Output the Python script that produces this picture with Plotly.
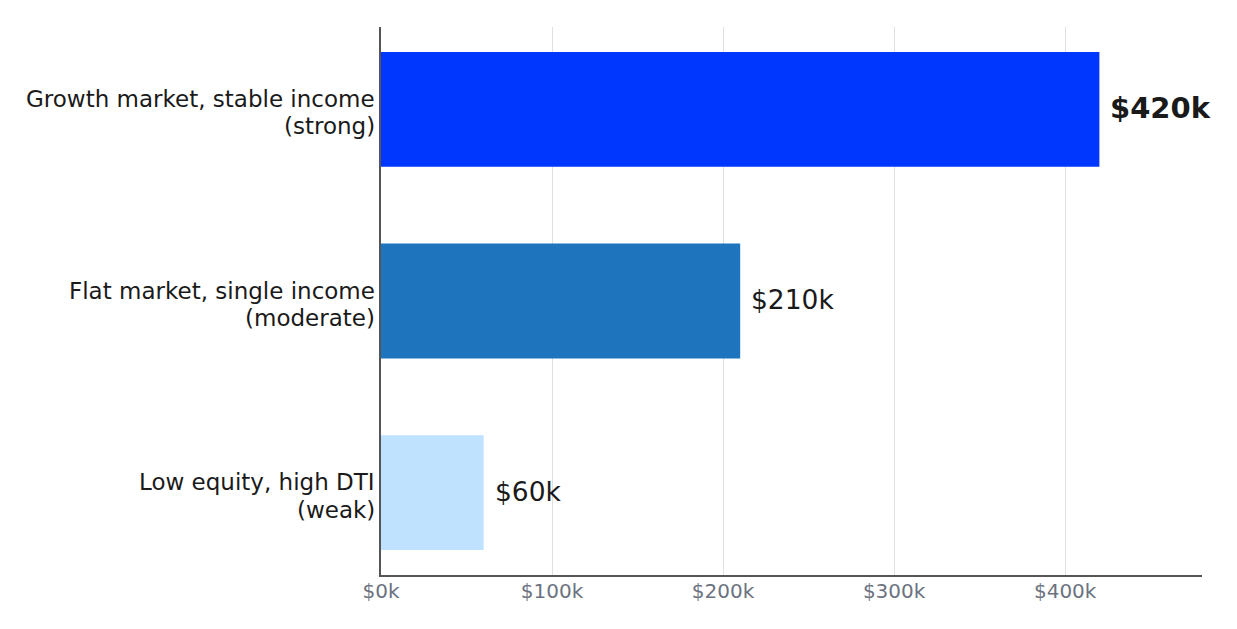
import plotly.graph_objects as go

categories = ["Growth market, stable income (strong)",
              "Flat market, single income (moderate)",
              "Low equity, high DTI (weak)"]
label_lines = [["Growth market, stable income", "(strong)"],
               ["Flat market, single income", "(moderate)"],
               ["Low equity, high DTI", "(weak)"]]
values = [420000, 210000, 60000]
labels = ["$420k", "$210k", "$60k"]
colors = ["#0037FF", "#1F75BD", "#BEE2FF"]
tick_vals = [0, 100000, 200000, 300000, 400000]
tick_text = ["$0k", "$100k", "$200k", "$300k", "$400k"]

fig = go.Figure(go.Bar(
    x=values, y=categories, orientation="h",
    marker=dict(color=colors, line=dict(width=0)),
    width=0.6, hoverinfo="skip",
))

for i, (v, c, lab) in enumerate(zip(values, categories, labels)):
    bold = i == 0
    fig.add_annotation(
        x=v, y=c, xref="x", yref="y",
        text=f"<b>{lab}</b>" if bold else lab,
        showarrow=False, xanchor="left", yanchor="middle", xshift=9, yshift=1.5,
        font=dict(family="DejaVu Sans", size=29 if bold else 26.5, color="#1a1a1a"),
    )

for c, lines in zip(categories, label_lines):
    for j, (line, dy) in enumerate(zip(lines, [10.5, -17])):
        fig.add_annotation(
            x=0, y=c, xref="paper", yref="y",
            text=line, showarrow=False, xanchor="right", yanchor="middle",
            xshift=-4, yshift=dy,
            font=dict(family="DejaVu Sans", size=23, color="#1a1a1a"),
        )

fig.update_layout(
    width=1237, height=629,
    margin=dict(l=381, r=35, t=27, b=54),
    plot_bgcolor="white", paper_bgcolor="white",
    font=dict(family="DejaVu Sans"),
    showlegend=False,
    xaxis=dict(
        range=[0, 480000], tickvals=tick_vals, ticktext=tick_text,
        showgrid=True, gridcolor="#E0E0E0", gridwidth=1,
        showline=True, linecolor="#555555", linewidth=2,
        zeroline=False, ticks="", ticklabelstandoff=-3,
        tickfont=dict(family="DejaVu Sans", size=20, color="#6B7280"),
    ),
    yaxis=dict(
        autorange=False, range=[2.43, -0.43],
        showgrid=False, showline=True, linecolor="#555555", linewidth=2,
        ticks="", showticklabels=False,
    ),
)

fig.write_html("out.html")
